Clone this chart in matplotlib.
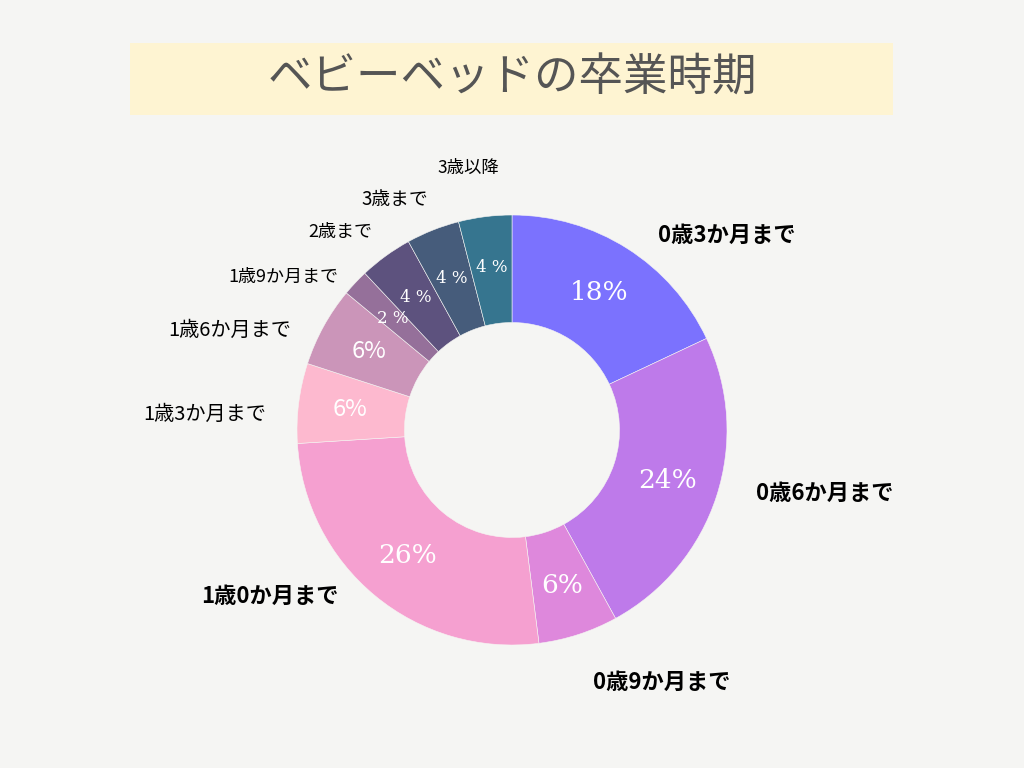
import matplotlib.pyplot as plt
from matplotlib.patches import Rectangle
import numpy as np

plt.rcParams['font.family'] = ['Noto Sans CJK JP', 'DejaVu Sans']

categories = ["0歳3か月まで", "0歳6か月まで", "0歳9か月まで", "1歳0か月まで", "1歳3か月まで",
              "1歳6か月まで", "1歳9か月まで", "2歳まで", "3歳まで", "3歳以降"]
shares = [18, 24, 6, 26, 6, 6, 2, 4, 4, 4]
pct_texts = ["18%", "24%", "6%", "26%", "6%", "6%", "2 %", "4 %", "4 %", "4 %"]
colors = ["#7B72FE", "#BE7AEA", "#DE88DC", "#F5A0D0", "#FDB9CF",
          "#CB95B9", "#95709A", "#5D527E", "#465C7B", "#36758F"]

# label placement (axes data units, relative to the pie centre)
label_pos = [(1.0, 0.907), (1.456, -0.293), (0.698, -1.172), (-1.126, -0.772), (-1.428, 0.074),
             (-1.312, 0.465), (-1.065, 0.712), (-0.80, 0.921), (-0.544, 1.074), (-0.205, 1.219)]
label_bold = [True, True, True, True, False, False, False, False, False, False]
label_size = [16, 16, 16, 16, 14.5, 14.5, 13, 13, 13.5, 12.5]
pct_size = [19, 19, 19, 19, 17, 17, 12, 12, 12, 12]
pct_serif = [True, True, True, True, False, False, True, True, True, True]

bg = "#F5F5F3"
fig = plt.figure(figsize=(10.24, 7.68), dpi=100, facecolor=bg)

# title band
fig.patches.append(Rectangle((130 / 1024, 1 - 115 / 768), 763 / 1024, 72 / 768,
                             transform=fig.transFigure, facecolor="#FEF4D2", edgecolor="none"))
fig.text(0.5, 1 - 78 / 768, "ベビーベッドの卒業時期", ha="center", va="center",
         fontsize=32, color="#555555")

ax = fig.add_axes([297 / 1024, 123 / 768, 430 / 1024, 430 / 768])
ax.set_facecolor(bg)
wedges, _ = ax.pie(shares, colors=colors, startangle=90, counterclock=False,
                   wedgeprops=dict(width=0.5, edgecolor=bg, linewidth=0.4))

for w, txt, size, serif in zip(wedges, pct_texts, pct_size, pct_serif):
    ang = np.deg2rad((w.theta1 + w.theta2) / 2)
    r = 0.76
    ax.text(r * np.cos(ang), r * np.sin(ang), txt, ha="center", va="center",
            fontsize=size, color="white",
            family="DejaVu Serif" if serif else "Noto Sans CJK JP")

for cat, (lx, ly), bold, size in zip(categories, label_pos, label_bold, label_size):
    ax.text(lx, ly, cat, ha="center", va="center", fontsize=size,
            fontweight="bold" if bold else "normal", color="black")

ax.set_xlim(-1, 1)
ax.set_ylim(-1, 1)
ax.set_aspect("equal")
ax.axis("off")

fig.savefig("out.png", dpi=100, facecolor=bg)
